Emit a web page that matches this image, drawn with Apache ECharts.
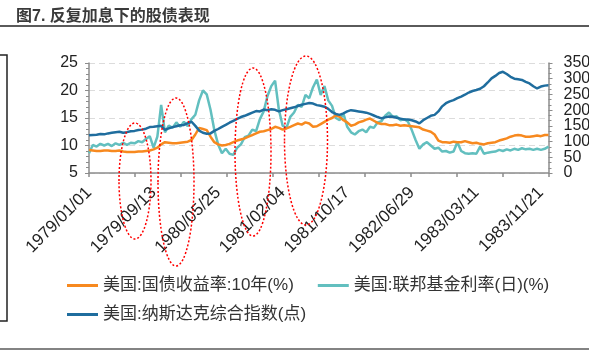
<!DOCTYPE html>
<html>
<head>
<meta charset="utf-8">
<script src="https://cdn.jsdelivr.net/npm/echarts@6/dist/echarts.min.js"></script>
<style>
  html, body { margin: 0; padding: 0; background: #fff; }
  #chart { width: 589px; height: 351px; }
</style>
</head>
<body>
<div id="chart"></div>
<script>
// 日期: 1979/01/01 起, 每 15 天一个点
var startDate = '1979/01/01';
var stepDays = 15;
var tickLabels = ['1979/01/01', '1979/09/13', '1980/05/25', '1981/02/04',
  '1981/10/17', '1982/06/29', '1983/03/11', '1983/11/21'];

// 美国:国债收益率:10年(%)
var bond10y = [
  9.2, 9.1, 9.0, 9.0, 9.1, 9.1, 9.0, 9.0, 9.1, 8.9,
  8.8, 8.8, 8.8, 8.9, 8.9, 9.0, 9.1, 9.3, 9.6, 10.2,
  10.6, 10.5, 10.4, 10.4, 10.5, 10.6, 10.7, 11.0, 12.0, 13.2,
  13.0, 12.8, 11.6, 10.6, 10.2, 10.0, 10.1, 10.3, 10.6, 10.9,
  11.1, 11.3, 11.6, 11.9, 12.2, 12.5, 12.6, 12.8, 13.0, 13.4,
  13.2, 12.9, 13.1, 13.4, 13.7, 14.0, 13.8, 14.2, 14.0, 13.4,
  13.5, 13.9, 14.3, 14.7, 15.0, 15.5, 15.2, 14.6, 14.2, 13.6,
  13.8, 14.2, 14.4, 14.7, 14.9, 14.5, 14.1, 13.9, 13.9, 13.7,
  13.7, 13.8, 13.6, 13.7, 13.6, 13.5, 13.4, 13.3, 12.9, 12.7,
  12.5, 12.0, 10.9, 10.6, 10.6, 10.5, 10.7, 10.6, 10.6, 10.8,
  10.6, 10.4, 10.5, 10.3, 10.2, 10.4, 10.5, 10.6, 10.9, 11.1,
  11.3, 11.6, 11.8, 11.9, 11.8, 11.6, 11.6, 11.7, 11.8, 11.7,
  11.9, 11.9
];

// 美国:联邦基金利率(日)(%)
var fedFunds = [
  8.6, 10.1, 9.8, 10.3, 10.0, 10.3, 9.9, 10.4, 10.1, 10.5,
  10.1, 10.5, 10.4, 10.8, 10.6, 11.2, 11.7, 9.6, 11.6, 17.4,
  12.4, 13.6, 13.2, 14.2, 13.4, 14.3, 13.5, 14.8, 15.6, 18.2,
  20.0, 19.3, 16.5, 12.8, 10.2, 8.6, 9.4, 8.5, 8.3, 9.6,
  10.2, 11.5, 11.8, 12.9, 12.6, 14.8, 16.2, 19.0, 20.8, 21.8,
  16.5, 13.6, 13.2, 15.2, 16.0, 17.4, 17.0, 19.2, 18.6, 20.6,
  22.0, 19.2, 20.8, 18.2, 17.2, 15.0, 14.6, 15.8, 13.4, 12.4,
  12.0, 12.6, 12.9, 12.4, 13.4, 13.2, 14.2, 14.4, 15.4, 16.0,
  15.2, 15.3, 14.6, 14.8, 14.3, 12.8, 11.0, 9.4, 10.2, 10.6,
  10.0, 9.4, 9.6, 8.9, 9.0, 8.7, 8.9, 10.6, 9.0, 8.6,
  8.5, 8.6, 8.5, 9.8, 8.5, 8.7, 8.8, 8.9, 9.2, 9.0,
  9.3, 9.1, 9.4, 9.2, 9.5, 9.3, 9.4, 9.2, 9.4, 9.2,
  9.4, 9.8
];

// 美国:纳斯达克综合指数(点)
var nasdaq = [
  120, 121, 122, 124, 123, 126, 128, 130, 131, 128,
  130, 133, 134, 137, 138, 141, 146, 147, 149, 150,
  137, 142, 146, 149, 152, 153, 159, 163, 150, 135,
  128, 125, 126, 134, 140, 147, 153, 160, 166, 172,
  178, 182, 187, 192, 197, 196, 202, 200, 203, 201,
  196, 200, 203, 206, 209, 213, 217, 220, 223, 221,
  216, 214, 211, 204, 194, 188, 185, 190, 196, 200,
  198, 196, 194, 192, 188, 183, 178, 174, 177, 180,
  179, 176, 173, 170, 170, 168, 164, 158, 168, 175,
  182, 185, 196, 212, 222, 228, 232, 238, 243, 249,
  256, 261, 264, 268, 276, 288, 301, 309, 318, 322,
  315, 306, 300, 298, 296, 290, 285, 276, 269, 275,
  278, 279
];

var seriesNames = ['美国:国债收益率:10年(%)', '美国:联邦基金利率(日)(%)', '美国:纳斯达克综合指数(点)'];

function fmt(d) {
  var m = d.getMonth() + 1, day = d.getDate();
  return d.getFullYear() + '/' + (m < 10 ? '0' + m : m) + '/' + (day < 10 ? '0' + day : day);
}
var categories = [];
var t0 = new Date(startDate);
for (var i = 0; i < nasdaq.length; i++) {
  categories.push(fmt(new Date(t0.getFullYear(), t0.getMonth(), t0.getDate() + i * stepDays)));
}
var totalDays = (nasdaq.length - 1) * stepDays;

var font = "'Liberation Sans', 'Noto Sans CJK SC', sans-serif";
var axisColor = '#8c8c8c';

// 右轴标签分两层画 (0/100/200/300 与 50/150/250/350), 避免被自动隐藏
function rightLabel(odd) {
  return {
    fontSize: 16, color: '#222', margin: 15, fontFamily: font,
    showMinLabel: true, showMaxLabel: true, hideOverlap: false,
    formatter: function (v) { return ((v / 50) % 2 === 1) === odd ? String(v) : ''; }
  };
}

var chart = echarts.init(document.getElementById('chart'));
var option = {
  animation: false,
  backgroundColor: '#fff',
  title: {
    text: '图7. 反复加息下的股债表现',
    left: 11, top: 4,
    textStyle: { fontSize: 16, fontWeight: 'bold', color: '#3a3a3a', fontFamily: font }
  },
  grid: { left: 89, right: 40.5, top: 63, bottom: 178, outerBoundsMode: 'none' },
  legend: [
    {
      data: [seriesNames[0], seriesNames[1]],
      left: 62, top: 272, icon: 'rect', itemWidth: 31, itemHeight: 3, itemGap: 24,
      textStyle: { fontSize: 17, color: '#333', fontFamily: font }
    },
    {
      data: [seriesNames[2]],
      left: 62, top: 301, icon: 'rect', itemWidth: 31, itemHeight: 3,
      textStyle: { fontSize: 17, color: '#333', fontFamily: font }
    }
  ],
  xAxis: [
    {
      type: 'category',
      data: categories,
      boundaryGap: false,
      axisLine: { lineStyle: { color: axisColor, width: 1.5 } },
      axisTick: { show: false },
      axisLabel: {
        interval: 16, rotate: 45, margin: 17,
        fontSize: 17, color: '#222', fontFamily: font,
        formatter: function (v) { return tickLabels.indexOf(v) >= 0 ? v : ''; }
      }
    },
    {
      // 只画刻度线
      type: 'value', position: 'bottom', min: 0, max: totalDays, interval: totalDays / 10,
      axisLine: { show: false },
      axisTick: { show: true, length: 4, lineStyle: { color: axisColor, width: 1.5 } },
      axisLabel: { show: false },
      splitLine: { show: false }
    }
  ],
  yAxis: [
    {
      type: 'value', min: 5, max: 25, interval: 5,
      axisLine: { show: true, lineStyle: { color: axisColor, width: 1.5 } },
      axisTick: { show: true, length: 4, lineStyle: { color: axisColor } },
      minorTick: { show: true, splitNumber: 5, length: 3, lineStyle: { color: axisColor } },
      splitLine: { show: true, lineStyle: { color: '#dcdcdc', type: [6, 4], width: 1.2 } },
      axisLabel: { fontSize: 16, color: '#222', margin: 11, fontFamily: font }
    },
    {
      type: 'value', position: 'right', min: 0, max: 350, interval: 50,
      axisLine: { show: true, lineStyle: { color: axisColor, width: 1.5 } },
      axisTick: { show: true, length: 4, lineStyle: { color: axisColor } },
      minorTick: { show: true, splitNumber: 3, length: 3, lineStyle: { color: axisColor } },
      splitLine: { show: false },
      axisLabel: rightLabel(false)
    },
    {
      type: 'value', position: 'right', min: 0, max: 350, interval: 50,
      axisLine: { show: false },
      axisTick: { show: false },
      splitLine: { show: false },
      axisLabel: rightLabel(true)
    }
  ],
  series: [
    {
      name: seriesNames[1], type: 'line', yAxisIndex: 0, data: fedFunds,
      showSymbol: false, color: '#62bfbf', lineStyle: { width: 2.5 }
    },
    {
      name: seriesNames[0], type: 'line', yAxisIndex: 0, data: bond10y,
      showSymbol: false, color: '#f7891f', lineStyle: { width: 2.5 }
    },
    {
      name: seriesNames[2], type: 'line', yAxisIndex: 1, data: nasdaq,
      showSymbol: false, color: '#1f6d9e', lineStyle: { width: 2.5 }
    }
  ],
  graphic: [
    // 标题下横线、底部横线、左侧边框
    { type: 'line', shape: { x1: 0, y1: 26, x2: 589, y2: 26 }, style: { stroke: '#5a5a5a', lineWidth: 2 } },
    { type: 'line', shape: { x1: 0, y1: 349, x2: 589, y2: 349 }, style: { stroke: '#5a5a5a', lineWidth: 1.5 } },
    { type: 'polyline', shape: { points: [[0, 55], [7, 55], [7, 321], [0, 321]] }, style: { fill: null, stroke: '#222', lineWidth: 1.5 } },
    // 红色虚线圈
    { type: 'ellipse', shape: { cx: 135, cy: 181, rx: 16, ry: 58 }, style: { fill: null, stroke: '#ff0000', lineWidth: 1.5, lineDash: [2, 2] }, z: 100 },
    { type: 'ellipse', shape: { cx: 176, cy: 182, rx: 18, ry: 84 }, style: { fill: null, stroke: '#ff0000', lineWidth: 1.5, lineDash: [2, 2] }, z: 100 },
    { type: 'ellipse', shape: { cx: 253, cy: 152, rx: 18, ry: 84 }, style: { fill: null, stroke: '#ff0000', lineWidth: 1.5, lineDash: [2, 2] }, z: 100 },
    { type: 'ellipse', shape: { cx: 306, cy: 140.5, rx: 21.5, ry: 84.5 }, style: { fill: null, stroke: '#ff0000', lineWidth: 1.5, lineDash: [2, 2] }, z: 100 }
  ]
};
chart.setOption(option);
</script>
</body>
</html>
